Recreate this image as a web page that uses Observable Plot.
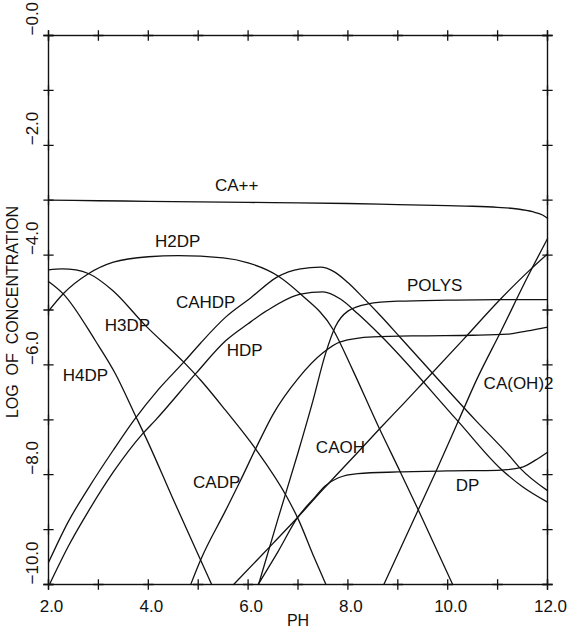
<!DOCTYPE html>
<html><head><meta charset="utf-8">
<script src="https://cdn.jsdelivr.net/npm/d3@7"></script>
<script src="https://cdn.jsdelivr.net/npm/@observablehq/plot@0.6"></script>
<style>body{margin:0;background:#fff}</style>
</head><body><div id="chart"></div>
<script>
// ---- data (pH, log concentration) ----
const caFree = [[2,-3.0],[3,-3.01],[4,-3.02],[5,-3.03],[6,-3.04],[7,-3.05],[8,-3.06],[9,-3.08],[10,-3.1],[10.5,-3.11],[11,-3.13],[11.4,-3.16],[11.7,-3.21],[11.9,-3.27],[12,-3.33]];
const h4dp = [[2,-4.48],[2.3,-4.71],[2.94,-5.56],[3.34,-6.16],[3.74,-6.92],[4.0,-7.42],[4.48,-8.41],[5.05,-9.56],[5.27,-10]];
const h3dp = [[2,-4.27],[2.27,-4.25],[2.55,-4.27],[2.81,-4.34],[3.28,-4.64],[3.94,-5.28],[4.71,-5.95],[5.05,-6.28],[5.55,-6.83],[6.15,-7.53],[6.78,-8.41],[7.0,-8.8],[7.32,-9.5],[7.56,-10]];
const h2dp = [[2,-5.02],[2.3,-4.7],[2.8,-4.34],[3.3,-4.13],[4,-4.03],[4.6,-4.01],[5.5,-4.05],[6.0,-4.14],[6.6,-4.38],[7.05,-4.71],[7.7,-5.35],[8.1,-6.1],[8.6,-7.1],[9.05,-7.95],[9.4,-8.62],[10.1,-10]];
const cahdp = [[2,-9.6],[2.4,-8.85],[2.81,-8.23],[3.3,-7.55],[3.71,-7.01],[4.2,-6.45],[4.71,-5.95],[5.05,-5.6],[5.55,-5.13],[6.05,-4.78],[6.58,-4.4],[7.05,-4.25],[7.45,-4.22],[7.72,-4.3],[8.0,-4.5],[8.3,-4.77],[8.65,-5.1],[9.05,-5.5],[10.56,-7.01],[11.26,-7.68],[11.46,-7.89],[12,-8.29]];
const hdp = [[2.02,-10],[2.4,-9.3],[2.81,-8.65],[3.3,-7.95],[3.88,-7.26],[4.14,-7.01],[4.95,-6.16],[5.55,-5.56],[6.0,-5.25],[6.38,-5.01],[7.05,-4.71],[7.5,-4.67],[7.85,-4.8],[8.2,-5.07],[8.65,-5.46],[10.2,-7.02],[11.06,-7.89],[11.5,-8.22],[12,-8.5]];
const cadp = [[4.85,-10],[5.05,-9.55],[5.55,-8.65],[5.85,-8.1],[6.15,-7.53],[6.5,-6.9],[7.0,-6.25],[7.5,-5.78],[7.85,-5.58],[8.5,-5.49],[9.5,-5.47],[10.5,-5.46],[11.2,-5.44],[11.6,-5.38],[12,-5.31]];
const polys = [[6.21,-10],[6.6,-8.8],[7.0,-7.6],[7.3,-6.65],[7.55,-5.8],[7.75,-5.3],[8.0,-5.02],[8.4,-4.89],[9,-4.84],[10,-4.82],[11,-4.81],[12,-4.81]];
const dp = [[6.2,-10],[6.6,-9.4],[7.0,-8.77],[7.3,-8.45],[7.55,-8.2],[7.8,-8.06],[8.2,-7.98],[9,-7.95],[10,-7.93],[11,-7.92],[11.5,-7.86],[11.75,-7.74],[12,-7.59]];
const caoh = [[5.71,-10],[6.5,-9.25],[7.0,-8.77],[7.52,-8.25],[8.19,-7.6],[8.65,-7.15],[9.12,-6.7],[9.45,-6.38],[10.32,-5.53],[11.06,-4.8],[11.66,-4.26],[12,-3.98]];
const caoh2 = [[8.72,-10],[9.42,-8.62],[9.76,-7.95],[10.2,-7.05],[10.59,-6.25],[11.06,-5.4],[11.6,-4.4],[12,-3.7]];

const seriesNames = ["CA++","H4DP","H3DP","H2DP","CAHDP","HDP","CADP","POLYS","DP","CAOH","CA(OH)2"];
const seriesPoints = [caFree,h4dp,h3dp,h2dp,cahdp,hdp,cadp,polys,dp,caoh,caoh2];

const labelNames = ["CA++","H2DP","CAHDP","H3DP","H4DP","HDP","POLYS","CA(OH)2","CAOH","CADP","DP"];
const labelPH   = [5.77,4.59,5.15,3.58,2.74,5.93,9.74,11.42,7.85,5.37,10.4];
const labelLogC = [-2.73,-3.75,-4.86,-5.28,-6.19,-5.74,-4.55,-6.34,-7.5,-8.14,-8.2];

const xTicks = [2,3,4,5,6,7,8,9,10,11,12];
const yTicks = [-10,-9,-8,-7,-6,-5,-4,-3,-2,-1,0];
const xLabelValues = [2,4,6,8,10,12];
const xLabelTexts = ["2.0","4.0","6.0","8.0","10.0","12.0"];
const yLabelValues = [-10,-8,-6,-4,-2,0];
const yLabelTexts = ["\u221210.0","\u22128.0","\u22126.0","\u22124.0","\u22122.0","\u22120.0"];
const xTitle = "PH";
const yTitle = "LOG  OF  CONCENTRATION";

// ---- build tables ----
const rows = seriesNames.flatMap((name, i) => seriesPoints[i].map(([x, y]) => ({species: name, pH: x, logC: y})));
const labels = labelNames.map((t, i) => ({text: t, pH: labelPH[i], logC: labelLogC[i]}));
const xLab = xLabelValues.map((v, i) => ({v, t: xLabelTexts[i]}));
const yLab = yLabelValues.map((v, i) => ({v, t: yLabelTexts[i]}));

const ink = "#111";
const font = "'Liberation Sans', Arial, sans-serif";
const tickStyle = {symbol: "plus", r: 3.4, stroke: ink, strokeWidth: 1.3};

const chart = Plot.plot({
  width: 570, height: 629,
  marginLeft: 48, marginRight: 23, marginTop: 35, marginBottom: 45,
  x: {domain: [2, 12], axis: null},
  y: {domain: [-10, 0], axis: null},
  style: {fontFamily: font, background: "#fff", color: ink},
  marks: [
    Plot.frame({stroke: ink, strokeWidth: 1.4}),
    Plot.dot(xTicks, {x: d => d, frameAnchor: "bottom", ...tickStyle}),
    Plot.dot(xTicks, {x: d => d, frameAnchor: "top", ...tickStyle}),
    Plot.dot(yTicks, {y: d => d, frameAnchor: "left", ...tickStyle}),
    Plot.dot(yTicks, {y: d => d, frameAnchor: "right", ...tickStyle}),
    Plot.line(rows, {x: "pH", y: "logC", z: "species", stroke: ink, strokeWidth: 1.3, curve: "monotone-x"}),
    Plot.text(labels, {x: "pH", y: "logC", text: "text", fontSize: 17, fill: ink}),
    Plot.text(xLab, {x: "v", text: "t", frameAnchor: "bottom", lineAnchor: "middle", dy: 22, dx: 3, fontSize: 17, fill: ink}),
    Plot.text(yLab, {y: "v", text: "t", frameAnchor: "left", lineAnchor: "middle", dx: -16, rotate: -90, textAnchor: "start", fontSize: 17, fill: ink}),
    Plot.text([xTitle], {frameAnchor: "bottom", lineAnchor: "middle", dy: 36, fontSize: 16, fill: ink}),
    Plot.text([yTitle], {frameAnchor: "left", lineAnchor: "middle", textAnchor: "middle", dx: -36, dy: 2, rotate: -90, fontSize: 16, fill: ink})
  ]
});
document.getElementById("chart").append(chart);
</script></body></html>
